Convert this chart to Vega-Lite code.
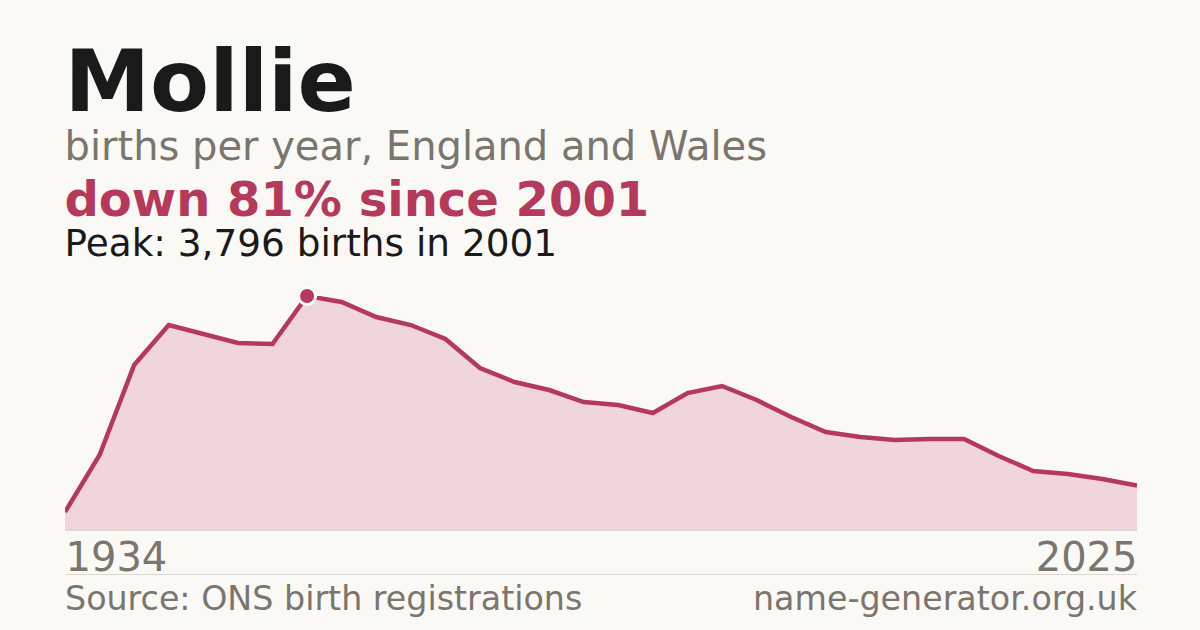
{
  "$schema": "https://vega.github.io/schema/vega-lite/v6.json",
  "background": "#faf9f5",
  "padding": {"left": 64, "right": 64, "top": 42, "bottom": 13},
  "title": {
    "text": "Mollie",
    "subtitle": "births per year, England and Wales",
    "anchor": "start",
    "font": "DejaVu Sans",
    "fontSize": 86,
    "fontWeight": "bold",
    "color": "#1a1a1a",
    "subtitleFont": "DejaVu Sans",
    "subtitleFontSize": 40,
    "subtitleColor": "#7a756d",
    "subtitlePadding": -1,
    "offset": 9
  },
  "config": {
    "view": {"stroke": null},
    "concat": {"spacing": 5},
    "font": "DejaVu Sans"
  },
  "vconcat": [
    {
      "width": 1072,
      "height": 234,
      "title": {
        "text": "down 81% since 2001",
        "subtitle": "Peak: 3,796 births in 2001",
        "anchor": "start",
        "font": "DejaVu Sans",
        "fontSize": 48,
        "fontWeight": "bold",
        "color": "#b5395a",
        "subtitleFont": "DejaVu Sans",
        "subtitleFontSize": 37.4,
        "subtitleColor": "#1a1a1a",
        "subtitlePadding": 0,
        "offset": 18
      },
      "data": {
        "values": [
          {"year": 1934, "births": 292},
          {"year": 1995, "births": 1217},
          {"year": 1996, "births": 2676},
          {"year": 1997, "births": 3325},
          {"year": 1998, "births": 3179},
          {"year": 1999, "births": 3033},
          {"year": 2000, "births": 3017},
          {"year": 2001, "births": 3796},
          {"year": 2002, "births": 3698},
          {"year": 2003, "births": 3455},
          {"year": 2004, "births": 3325},
          {"year": 2005, "births": 3098},
          {"year": 2006, "births": 2628},
          {"year": 2007, "births": 2401},
          {"year": 2008, "births": 2271},
          {"year": 2009, "births": 2076},
          {"year": 2010, "births": 2028},
          {"year": 2011, "births": 1898},
          {"year": 2012, "births": 2222},
          {"year": 2013, "births": 2336},
          {"year": 2014, "births": 2109},
          {"year": 2015, "births": 1833},
          {"year": 2016, "births": 1590},
          {"year": 2017, "births": 1508},
          {"year": 2018, "births": 1460},
          {"year": 2019, "births": 1476},
          {"year": 2020, "births": 1476},
          {"year": 2021, "births": 1200},
          {"year": 2022, "births": 957},
          {"year": 2023, "births": 908},
          {"year": 2024, "births": 827},
          {"year": 2025, "births": 721}
        ]
      },
      "encoding": {
        "x": {
          "field": "year",
          "type": "ordinal",
          "scale": {"type": "point", "padding": 0},
          "axis": {
            "values": [1934, 2025],
            "title": null,
            "labelAngle": 0,
            "ticks": false,
            "tickSize": 0,
            "domain": true,
            "domainColor": "#dcd9d2",
            "domainWidth": 1,
            "offset": 44,
            "labelPadding": -4,
            "labelBaseline": "alphabetic",
            "labelFont": "DejaVu Sans",
            "labelFontSize": 40,
            "labelColor": "#7a756d",
            "labelAlign": {"condition": {"test": "datum.value == 1934", "value": "left"}, "value": "right"},
            "grid": false
          }
        },
        "y": {
          "field": "births",
          "type": "quantitative",
          "scale": {"domain": [0, 3796], "nice": false},
          "axis": null
        }
      },
      "layer": [
        {"mark": {"type": "area", "color": "#f0d5da", "opacity": 1}},
        {"mark": {"type": "rule", "color": "#dcd9d2", "strokeWidth": 1}, "encoding": {"x": {"value": 0}, "x2": {"value": 1072}, "y": {"datum": 0}}},
        {"mark": {"type": "line", "color": "#b5395a", "strokeWidth": 4.5, "clip": true}},
        {
          "transform": [{"filter": "datum.year == 2001"}],
          "mark": {"type": "point", "shape": "circle", "filled": true, "color": "#b5395a", "size": 290, "stroke": "#ffffff", "strokeWidth": 3, "opacity": 1}
        }
      ]
    },
    {
      "width": 1072,
      "height": 10,
      "data": {
        "values": [
          {"label": "Source: ONS birth registrations", "item": "source"},
          {"label": "name-generator.org.uk", "item": "site"}
        ]
      },
      "encoding": {
        "x": {"field": "item", "type": "nominal", "scale": {"type": "point", "domain": ["source", "site"], "padding": 0}, "axis": null},
        "text": {"field": "label"}
      },
      "layer": [
        {
          "transform": [{"filter": "datum.item == 'source'"}],
          "mark": {"type": "text", "align": "left", "baseline": "alphabetic", "font": "DejaVu Sans", "fontSize": 33.3, "color": "#7a756d"}
        },
        {
          "transform": [{"filter": "datum.item == 'site'"}],
          "mark": {"type": "text", "align": "right", "baseline": "alphabetic", "font": "DejaVu Sans", "fontSize": 33.3, "color": "#7a756d"}
        }
      ]
    }
  ]
}
